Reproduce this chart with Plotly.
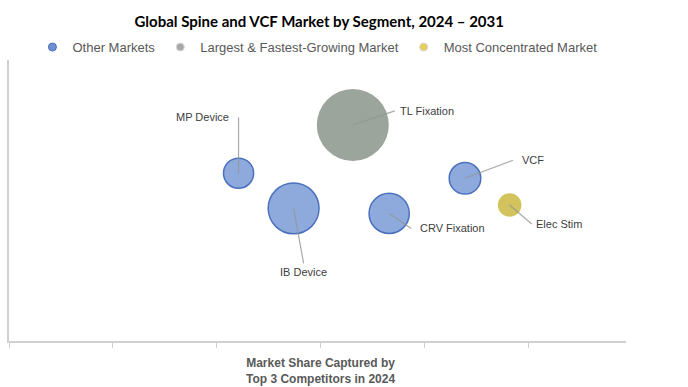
import plotly.graph_objects as go

# ---- data ----
segments = ["MP Device", "IB Device", "TL Fixation", "CRV Fixation", "VCF", "Elec Stim"]
groups = ["Other Markets", "Other Markets", "Largest & Fastest-Growing Market",
          "Other Markets", "Other Markets", "Most Concentrated Market"]
top3_share = [22.1, 27.4, 33.1, 36.6, 43.9, 48.2]      # x: market share captured by top 3 (%)
growth_index = [59.7, 47.2, 76.9, 45.4, 57.9, 48.4]    # y: relative position
market_size = [9.0, 25.6, 51.3, 16.0, 9.9, 5.5]        # bubble area
group_order = ["Other Markets", "Largest & Fastest-Growing Market", "Most Concentrated Market"]

# ---- styles ----
fill = {"Other Markets": "#8eaadc",
        "Largest & Fastest-Growing Market": "#9ba59b",
        "Most Concentrated Market": "#d3c35c"}
edge = {"Other Markets": "#4a70be",
        "Largest & Fastest-Growing Market": "#9ba59b",
        "Most Concentrated Market": "#d3c35c"}
edge_w = {"Other Markets": 1.5,
          "Largest & Fastest-Growing Market": 0,
          "Most Concentrated Market": 0}
legend_fill = {"Other Markets": "#6f8fd0",
               "Largest & Fastest-Growing Market": "#a8a8a8",
               "Most Concentrated Market": "#e3cf5a"}
sizeref = 2.0 * max(market_size) / (72 ** 2)

fig = go.Figure()
for g in group_order:
    idx = [i for i, gg in enumerate(groups) if gg == g]
    fig.add_trace(go.Scatter(
        x=[top3_share[i] for i in idx],
        y=[growth_index[i] for i in idx],
        text=[segments[i] for i in idx],
        mode="markers",
        name=g,
        legendgroup=g,
        showlegend=False,
        marker=dict(size=[market_size[i] for i in idx], sizemode="area", sizeref=sizeref,
                    color=fill[g], opacity=1,
                    line=dict(color=edge[g], width=edge_w[g])),
        hovertemplate="%{text}<extra></extra>",
    ))
# legend entries with small fixed-size symbols
for g in group_order:
    fig.add_trace(go.Scatter(
        x=[None], y=[None], mode="markers", name=g, legendgroup=g, showlegend=True,
        marker=dict(size=8, color=legend_fill[g],
                    line=dict(color="#d9d9d9" if g != "Other Markets" else "#4a70be", width=1)),
    ))

# label placement (pixel offsets from bubble centre to label anchor)
label_cfg = {
    "MP Device":    dict(ax=0,  ay=-56, xanchor="right", yanchor="middle", borderpad=9),
    "IB Device":    dict(ax=10, ay=55,  xanchor="center", yanchor="top", borderpad=2),
    "TL Fixation":  dict(ax=42, ay=-14, xanchor="left", yanchor="middle", borderpad=4),
    "CRV Fixation": dict(ax=22, ay=15,  xanchor="left", yanchor="middle", borderpad=8),
    "VCF":          dict(ax=48, ay=-18, xanchor="left", yanchor="middle", borderpad=8),
    "Elec Stim":    dict(ax=22, ay=19,  xanchor="left", yanchor="middle", borderpad=3),
}
for i, s in enumerate(segments):
    c = label_cfg[s]
    fig.add_annotation(
        x=top3_share[i], y=growth_index[i], text=s,
        showarrow=True, arrowhead=0, arrowwidth=1.2, arrowcolor="rgba(150,150,150,0.8)",
        ax=c["ax"], ay=c["ay"], xanchor=c["xanchor"], yanchor=c["yanchor"],
        borderpad=c["borderpad"], standoff=0,
        font=dict(family="Liberation Sans, Arial", size=11, color="#404040"),
    )

fig.add_annotation(
    text="<b>Market Share Captured by<br>Top 3 Competitors in 2024</b>",
    xref="paper", yref="paper", x=0.505, y=-0.045, xanchor="center", yanchor="top",
    showarrow=False, font=dict(family="Liberation Sans, Arial", size=12, color="#595959"),
)

fig.update_layout(
    width=688, height=387,
    margin=dict(l=9, r=62, t=60, b=46),
    paper_bgcolor="white", plot_bgcolor="white",
    title=dict(text="<b>Global Spine and VCF Market by Segment, 2024 – 2031</b>",
               x=0.464, xanchor="center", y=0.944, yanchor="middle",
               font=dict(family="Lato, Liberation Sans", size=15, color="#000000")),
    legend=dict(orientation="h", x=0.038, xanchor="left", y=1.046, yanchor="middle",
                font=dict(family="Liberation Sans, Arial", size=13, color="#595959"),
                itemwidth=30, bgcolor="rgba(0,0,0,0)"),
    xaxis=dict(range=[0, 59.4], dtick=10, tick0=0, showticklabels=False,
               ticks="outside", ticklen=5, tickcolor="#d0d0d0", tickwidth=1,
               showline=True, linecolor="#d0d0d0", linewidth=1.5,
               showgrid=False, zeroline=False, fixedrange=True),
    yaxis=dict(range=[0, 100], showticklabels=False, ticks="",
               showline=True, linecolor="#d0d0d0", linewidth=1.5,
               showgrid=False, zeroline=False, fixedrange=True),
    showlegend=True,
)

fig.write_html("out.html", config={"displayModeBar": False},
               post_script="document.body.style.margin='0';")
